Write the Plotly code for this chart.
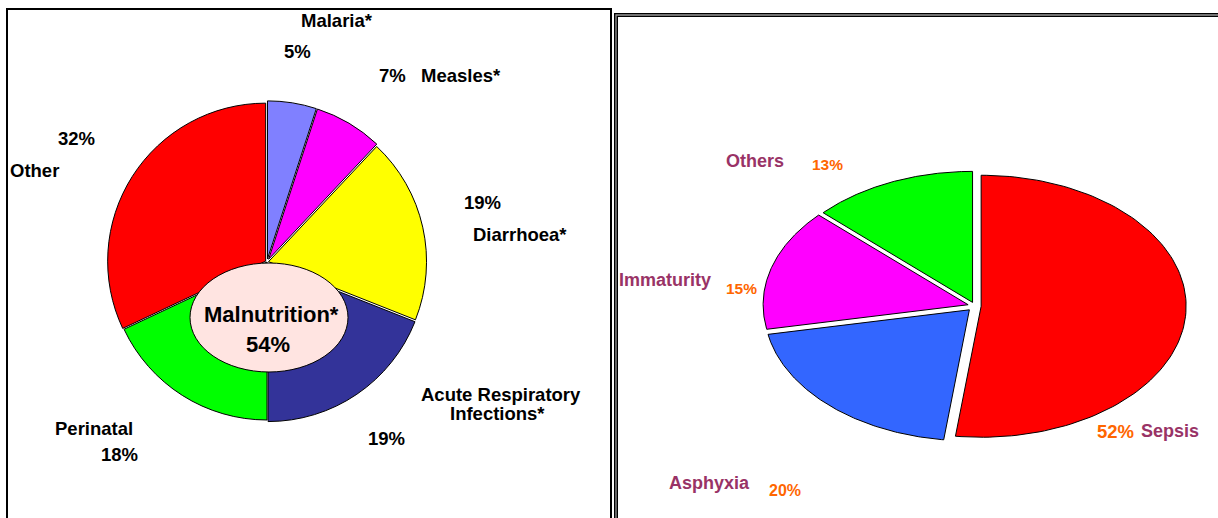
import numpy as np
import plotly.graph_objects as go

W, H = 1218, 518

# ---------------- data ----------------
left_labels = ["Malaria*", "Measles*", "Diarrhoea*", "Acute Respiratory Infections*", "Perinatal", "Other"]
left_values = [5, 7, 19, 19, 18, 32]
left_colors = ["#8080FF", "#FF00FF", "#FFFF00", "#333399", "#00FF00", "#FF0000"]
left_pulls = [0.02, 0.02, 0.01, 0.012, 0.0, 0.01]

inner_label = "Malnutrition*"
inner_value = 54

right_labels = ["Sepsis", "Asphyxia", "Immaturity", "Others"]
right_values = [52, 20, 15, 13]
right_colors = ["#FF0000", "#3366FF", "#FF00FF", "#00FF00"]
right_explode = [0.03, 0.04, 0.035, 0.03]

FONT = "Liberation Sans, Arial, Helvetica, sans-serif"
ORANGE = "#FF6600"
PURPLE = "#993366"

fig = go.Figure()

# ---------------- left pie ----------------
cx, cy, r = 267, 262, 158
half = r * (1 + max(left_pulls))
fig.add_trace(go.Pie(
    labels=left_labels, values=left_values, sort=False, direction="clockwise",
    rotation=0, pull=left_pulls, textinfo="none", hoverinfo="label+percent",
    marker=dict(colors=left_colors, line=dict(color="black", width=1)),
    domain=dict(x=[(cx - half) / W, (cx + half) / W],
                y=[1 - (cy + half) / H, 1 - (cy - half) / H]),
    showlegend=False,
))

# ---------------- right (elliptical) pie ----------------
rcx, rcy, rrx, rry = 975, 306, 205, 131
total = float(sum(right_values))
start = 0.0
for lab, v, col, ex in zip(right_labels, right_values, right_colors, right_explode):
    a0 = start / total * 2 * np.pi
    a1 = (start + v) / total * 2 * np.pi
    mid = (a0 + a1) / 2
    ox = ex * rrx * np.sin(mid)
    oy = -ex * rry * np.cos(mid)
    t = np.linspace(a0, a1, 120)
    ax_, ay_ = rcx + ox, rcy + oy
    xs = np.concatenate([[ax_], ax_ + rrx * np.sin(t), [ax_]])
    ys = np.concatenate([[ay_], ay_ - rry * np.cos(t), [ay_]])
    fig.add_trace(go.Scatter(
        x=xs, y=ys, mode="lines", fill="toself", fillcolor=col,
        line=dict(color="black", width=1), name=lab,
        hoverinfo="name", showlegend=False,
    ))
    start += v

# ---------------- annotations ----------------
ann = []


def add(text, x, y, size, color="black"):
    ann.append(dict(text="<b>%s</b>" % text, x=x, y=y, xref="x", yref="y",
                    showarrow=False, xanchor="center", yanchor="middle",
                    font=dict(family=FONT, size=size, color=color)))


LS = 18.5
pct = ["%d%%" % v for v in left_values]
add(left_labels[0], 337, 20, LS)
add(pct[0], 297, 51, LS)
add(pct[1], 392, 75, LS)
add(left_labels[1], 461, 75, LS)
add(pct[2], 482, 202, LS)
add(left_labels[2], 520, 234, LS)
ari_words = left_labels[3].split(" ")
add(" ".join(ari_words[:2]), 501, 394, LS)
add(ari_words[2], 497, 413, LS)
add(pct[3], 386, 438, LS)
add(left_labels[4], 94, 428, LS)
add(pct[4], 119, 454, LS)
add(left_labels[5], 34, 170, LS)
add(pct[5], 76, 138, LS)

add(inner_label, 271, 314, 22)
add("%d%%" % inner_value, 268, 344, 22)

rpct = ["%d%%" % v for v in right_values]
add(right_labels[0], 1170, 431, 18, PURPLE)
add(rpct[0], 1115, 431, 18.5, ORANGE)
add(right_labels[1], 709, 483, 18, PURPLE)
add(rpct[1], 785, 490, 16, ORANGE)
add(right_labels[2], 665, 280, 18, PURPLE)
add(rpct[2], 741, 288, 15.5, ORANGE)
add(right_labels[3], 755, 161, 18, PURPLE)
add(rpct[3], 827, 164, 15.5, ORANGE)

# ---------------- shapes ----------------
shapes = [
    # inner ellipse
    dict(type="circle", xref="x", yref="y", x0=190, x1=348, y0=263, y1=372,
         fillcolor="#FFE4E1", line=dict(color="black", width=1), layer="above"),
    # left panel frame
    dict(type="rect", xref="x", yref="y", x0=7, x1=611, y0=9, y1=540,
         line=dict(color="black", width=2), fillcolor="rgba(0,0,0,0)"),
    # right panel frame (double line)
    dict(type="rect", xref="x", yref="y", x0=616, x1=1240, y0=15, y1=540,
         line=dict(color="black", width=4), fillcolor="rgba(0,0,0,0)"),
    dict(type="rect", xref="x", yref="y", x0=616, x1=1240, y0=15, y1=540,
         line=dict(color="#999999", width=1.3), fillcolor="rgba(0,0,0,0)"),
]

fig.update_layout(
    width=W, height=H, margin=dict(l=0, r=0, t=0, b=0),
    paper_bgcolor="white", plot_bgcolor="white",
    xaxis=dict(range=[0, W], visible=False, fixedrange=True, domain=[0, 1]),
    yaxis=dict(range=[H, 0], visible=False, fixedrange=True, domain=[0, 1]),
    annotations=ann, shapes=shapes, showlegend=False,
)

fig.write_html(
    "out.html",
    config={"displayModeBar": False},
    post_script="document.body.style.margin='0';document.body.style.overflow='hidden';",
)
